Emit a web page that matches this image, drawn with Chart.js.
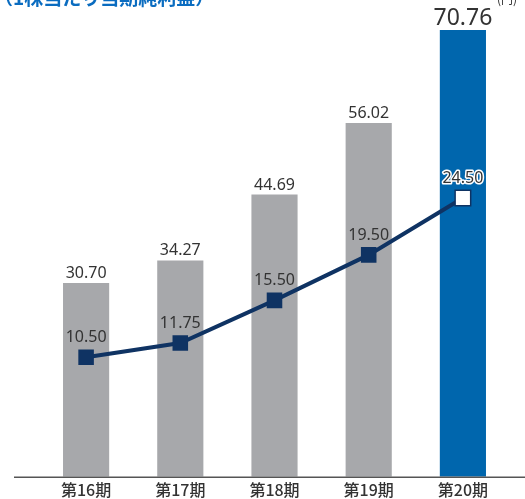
<!DOCTYPE html>
<html><head><meta charset="utf-8">
<script src="https://cdn.jsdelivr.net/npm/chart.js@4"></script>
<style>html,body{margin:0;padding:0;background:#fff}#wrap{width:525px;height:499px}</style>
</head><body><div id="wrap"><canvas id="c"></canvas></div>
<script>
const categories = ['第16期','第17期','第18期','第19期','第20期'];
const netAssetsPerShare = [30.70, 34.27, 44.69, 56.02, 70.76];
const epsValues = [10.50, 11.75, 15.50, 19.50, 24.50];
const barColors = ['#a7a8ab','#a7a8ab','#a7a8ab','#a7a8ab','#0066ad'];
const titleText = '（1株当たり当期純利益）';
const unitText = '(円)';

const labelPlugin = {
  id: 'labels',
  afterDatasetsDraw(chart) {
    const ctx = chart.ctx;
    ctx.save();
    // axis line
    ctx.strokeStyle = '#555';
    ctx.lineWidth = 1.5;
    ctx.beginPath();
    ctx.moveTo(14, chart.chartArea.bottom + 0.5);
    ctx.lineTo(525, chart.chartArea.bottom + 0.5);
    ctx.stroke();
    // bar labels
    const barMeta = chart.getDatasetMeta(1);
    ctx.textAlign = 'center';
    ctx.textBaseline = 'alphabetic';
    barMeta.data.forEach((el, i) => {
      const last = i === netAssetsPerShare.length - 1;
      ctx.font = (last ? '23px' : '16px') + ' "Noto Sans"';
      ctx.fillStyle = '#333';
      ctx.fillText(netAssetsPerShare[i].toFixed(2), el.x, el.y - 5);
    });
    // line labels
    const lineMeta = chart.getDatasetMeta(0);
    lineMeta.data.forEach((el, i) => {
      const last = i === epsValues.length - 1;
      ctx.font = '16px "Noto Sans"';
      const t = epsValues[i].toFixed(2);
      const y = el.y - 15;
      if (last) {
        ctx.strokeStyle = '#fff';
        ctx.lineWidth = 3;
        ctx.lineJoin = 'round';
        ctx.strokeText(t, el.x, y);
      }
      ctx.fillStyle = '#333';
      ctx.fillText(t, el.x, y);
    });
    // title (cropped at top)
    ctx.textAlign = 'left';
    ctx.textBaseline = 'bottom';
    ctx.font = 'bold 19px "Noto Sans CJK JP"';
    ctx.fillStyle = '#0a6cc0';
    ctx.fillText(titleText, -6, 7);
    ctx.font = '12px "Noto Sans CJK JP"';
    ctx.fillStyle = '#333';
    ctx.fillText(unitText, 497, 5);
    ctx.restore();
  }
};

new Chart(document.getElementById('c'), {
  data: {
    labels: categories,
    datasets: [
      {
        type: 'line',
        data: epsValues,
        yAxisID: 'y2',
        order: 0,
        borderColor: '#0f3363',
        borderWidth: 4,
        pointStyle: 'rect',
        pointRadius: 11,
        pointBackgroundColor: ['#0f3363','#0f3363','#0f3363','#0f3363','#ffffff'],
        pointBorderColor: '#0f3363',
        pointBorderWidth: [0,0,0,0,1.5],
        tension: 0
      },
      {
        type: 'bar',
        data: netAssetsPerShare,
        yAxisID: 'y',
        order: 1,
        backgroundColor: barColors,
        barPercentage: 0.49,
        categoryPercentage: 1
      }
    ]
  },
  options: {
    responsive: true,
    maintainAspectRatio: false,
    animation: false,
    layout: { padding: { left: 39, right: 15, top: 30, bottom: -5 } },
    plugins: { legend: { display: false }, tooltip: { enabled: false } },
    scales: {
      x: {
        grid: { display: false, drawTicks: false },
        border: { display: false },
        ticks: { color: '#333', font: { size: 16, family: '"Noto Sans CJK JP"', weight: '500' }, padding: 4, maxRotation: 0 }
      },
      y: { display: false, min: 0, max: 70.76 },
      y2: { display: false, min: 0, max: 39.26 }
    }
  },
  plugins: [labelPlugin]
});
</script></body></html>
